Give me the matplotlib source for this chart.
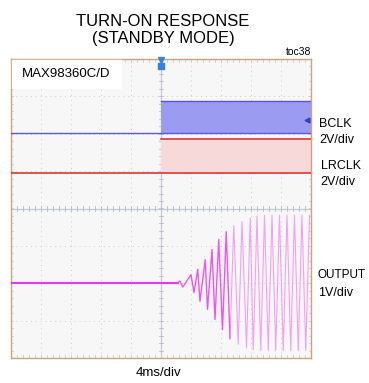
import matplotlib
matplotlib.use("Agg")
import matplotlib.pyplot as plt
import numpy as np

# ---------------- data ----------------
title_lines = ["TURN-ON RESPONSE", "(STANDBY MODE)"]
device_label = "MAX98360C/D"
toc_label = "toc38"
x_label = "4ms/div"

# time axis in ms (10 divisions x 4 ms)
t_min, t_max = 0.0, 40.0
t_edge = 20.0            # clocks start

# levels in divisions (screen units, -4..4)
bclk_low, bclk_high = 2.03, 2.88
lrclk_low, lrclk_high = 0.96, 1.85
out_offset = -1.98       # output baseline (div)
out_scale = 1.0          # 1V/div

# output waveform extrema (time ms, volts relative to baseline)
out_t = [0.0, 22.3, 22.5, 22.9, 24.0, 24.4, 24.9, 25.2, 25.9, 26.2, 26.8, 27.2,
         27.7, 28.2, 28.7, 29.2, 29.7, 30.3, 30.8, 31.4, 31.9, 32.3, 32.8, 33.3,
         33.8, 34.3, 34.8, 35.3, 35.8, 36.3, 36.8, 37.3, 37.8, 38.3, 38.8, 39.3,
         39.8]
out_v = [0.0, 0.0, 0.04, -0.12, 0.21, -0.27, 0.35, -0.50, 0.61, -0.72, 0.88, -0.99,
         1.15, -1.26, 1.36, -1.50, 1.52, -1.65, 1.63, -1.75, 1.72, -1.80, 1.78, -1.82,
         1.80, -1.82, 1.80, -1.82, 1.80, -1.82, 1.80, -1.82, 1.80, -1.82, 1.80, -1.82,
         1.80]

right_labels = [("BCLK", 2.27), ("2V/div", 1.84), ("LRCLK", 1.15), ("2V/div", 0.70),
                ("OUTPUT", -1.79), ("1V/div", -2.27)]
right_label_x = [41.1, 41.1, 41.3, 41.3, 40.9, 40.9]

# ---------------- fonts ----------------
plt.rcParams['font.family'] = ['Liberation Sans', 'DejaVu Sans']

fig = plt.figure(figsize=(3.69, 3.83), dpi=100)
W, H = 369, 383
ax = fig.add_axes([11 / W, 25 / H, 300 / W, 299 / H])
ax.set_facecolor('#f7f7f7')
ax.set_xlim(t_min, t_max)
ax.set_ylim(-4, 4)
ax.set_xticks([])
ax.set_yticks([])
for s in ax.spines.values():
    s.set_color('#c9a47e')
    s.set_linewidth(1.0)

# grid
for gx in np.arange(4, 40, 4):
    if gx == 20:
        continue
    ax.axvline(gx, color='#cccccc', lw=0.7, ls=(0, (1, 4)), zorder=1)
for gy in range(-3, 4):
    if gy == 0:
        continue
    ax.axhline(gy, color='#cccccc', lw=0.7, ls=(0, (1, 4)), zorder=1)
ax.axvline(20, color='#c4c8d4', lw=0.9, zorder=1)
ax.axhline(0, color='#c4c8d4', lw=0.9, zorder=1)
# minor ticks on centre lines and border
for mx in np.arange(0, 40.01, 0.8):
    ax.plot([mx, mx], [-0.07, 0.07], color='#b8bcc8', lw=0.6, zorder=1)
    ax.plot([mx, mx], [-4, -3.93], color='#cccccc', lw=0.6, zorder=1)
    ax.plot([mx, mx], [4, 3.93], color='#cccccc', lw=0.6, zorder=1)
for my in np.arange(-4, 4.01, 0.2):
    ax.plot([19.7, 20.3], [my, my], color='#b8bcc8', lw=0.6, zorder=1)
    ax.plot([0, 0.3], [my, my], color='#cccccc', lw=0.6, zorder=1)
    ax.plot([39.7, 40], [my, my], color='#cccccc', lw=0.6, zorder=1)

# BCLK
ax.fill_between([t_edge, t_max], bclk_low, bclk_high, color='#9b9bf2', lw=0, zorder=2)
ax.plot([t_min, t_max], [bclk_low, bclk_low], color='#5a5ae6', lw=1.0, zorder=3)
ax.plot([t_edge, t_max], [bclk_high, bclk_high], color='#5555e8', lw=1.0, zorder=3)

# LRCLK
ax.fill_between([t_edge, t_max], lrclk_low, lrclk_high, color='#f7d9d9', lw=0, zorder=2)
ax.plot([t_min, t_max], [lrclk_low, lrclk_low], color='#e03535', lw=1.2, zorder=3)
ax.plot([t_edge, t_max], [lrclk_high, lrclk_high], color='#e03535', lw=1.2, zorder=3)

# OUTPUT
ot = np.array(out_t)
ov = np.array(out_v) * out_scale + out_offset
pre = ot <= 22.3
ax.plot(ot[pre], ov[pre], color='#e43ce4', lw=1.5, zorder=4)
early = (ot >= 22.3) & (ot <= 29.2)
ax.plot(ot[early], ov[early], color='#ee55ee', lw=1.0, zorder=4)
late = ot >= 29.2
ax.plot(ot[late], ov[late], color='#f27cf2', lw=0.8, alpha=0.7, zorder=4)

# markers
ax.plot([20], [3.82], marker='s', ms=4, color='#3d7fe0', clip_on=False, zorder=5)
ax.plot([20], [3.97], marker='v', ms=4, color='#3d7fe0', clip_on=False, zorder=5)
ax.plot([39.5], [2.38], marker='<', ms=3.5, color='#2a40d8', zorder=5)

# device label box
ax.add_patch(plt.Rectangle((0.1, 3.22), 14.5, 0.76, color='white', zorder=3))
ax.text(1.5, 3.6, device_label, fontsize=9.5, va='center', ha='left', zorder=4)

# texts
fig.text(163 / W, 1 - 21 / H, title_lines[0], fontsize=12, ha='center', va='center')
fig.text(163 / W, 1 - 39 / H, title_lines[1], fontsize=12, ha='center', va='center')
fig.text(311 / W, 1 - 52 / H, toc_label, fontsize=7.5, ha='right', va='center')
fig.text(159 / W, 1 - 373 / H, x_label, fontsize=9.5, ha='center', va='center')
for (lab, yv), xv in zip(right_labels, right_label_x):
    fs = 8.5 if lab == "OUTPUT" else 9
    ax.text(xv, yv, lab, fontsize=fs, ha='left', va='center', clip_on=False)

fig.savefig('out.png', dpi=100)
